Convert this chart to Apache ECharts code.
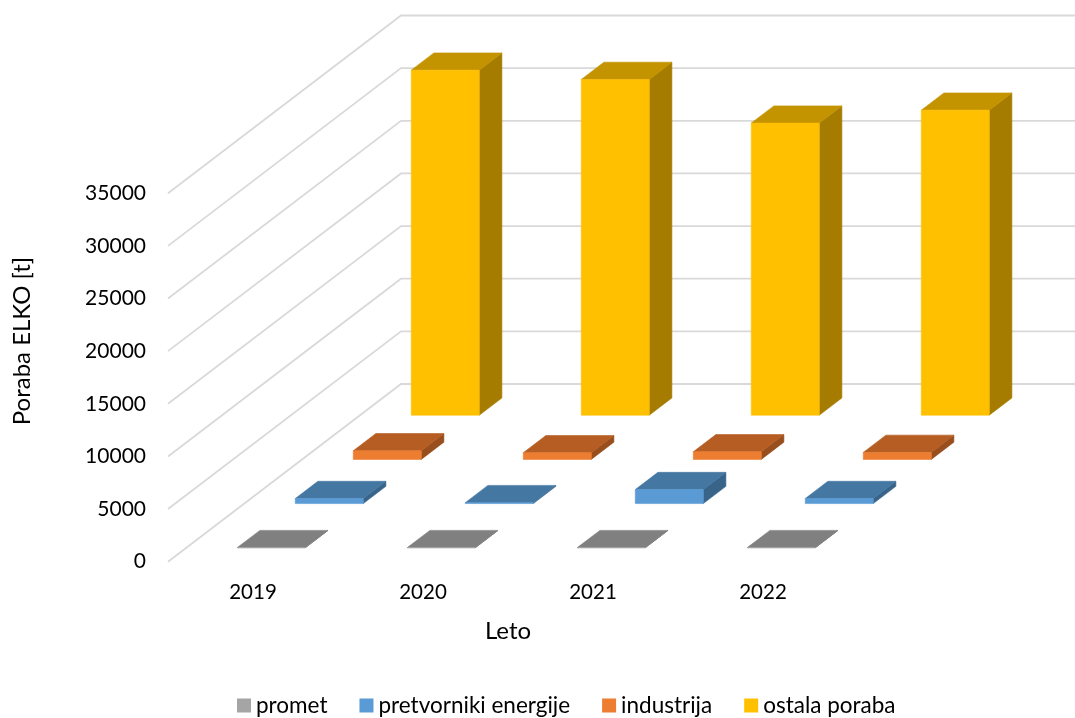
<!DOCTYPE html>
<html>
<head>
<meta charset="utf-8">
<style>html,body{margin:0;padding:0;background:#fff}#c{width:1075px;height:718px}</style>
<script src="https://cdn.jsdelivr.net/npm/echarts@6/dist/echarts.min.js"></script>
</head>
<body>
<div id="c"></div>
<script>
const years = ['2019', '2020', '2021', '2022'];
const ticks = [0, 5000, 10000, 15000, 20000, 25000, 30000, 35000];
const promet = [15, 15, 15, 15];
const pretvorniki = [480, 90, 1330, 480];
const industrija = [820, 630, 720, 665];
const ostala = [32770, 31890, 27740, 28970];

const FONT = 'Lato';
const WALL_DX = 233, WALL_DY = 177.7;   // oblique projection of the floor depth
const ROW_START = 0.315, ROW_DEPTH = 0.39, BAR_W = 0.4;
const slotX = 58, slotY = 44.2;

function barRender(row, front, top, side) {
  return function (params, api) {
    const cat = api.value(0), v = api.value(1);
    const base = api.coord([cat, 0]), head = api.coord([cat, v]);
    const w = api.size([1, 0])[0] * BAR_W;
    const ox = (row + ROW_START) * slotX, oy = (row + ROW_START) * slotY;
    const dx = ROW_DEPTH * slotX, dy = ROW_DEPTH * slotY;
    const x0 = base[0] - w / 2 + ox, x1 = x0 + w;
    const yB = base[1] - oy, yT = head[1] - oy;
    const poly = (points, fill) => ({
      type: 'polygon',
      shape: { points },
      style: { fill, stroke: fill, lineWidth: 0.6, opacity: 1 }
    });
    return {
      type: 'group',
      children: [
        poly([[x1, yB], [x1 + dx, yB - dy], [x1 + dx, yT - dy], [x1, yT]], side),
        poly([[x0, yT], [x1, yT], [x1 + dx, yT - dy], [x0 + dx, yT - dy]], top),
        poly([[x0, yB], [x1, yB], [x1, yT], [x0, yT]], front)
      ]
    };
  };
}

function wallRender(params, api) {
  const v = api.value(0);
  const y = api.coord([0, v])[1];
  const x = params.coordSys.x;
  return {
    type: 'polyline',
    shape: { points: [[x, y], [x + WALL_DX, y - WALL_DY], [1080, y - WALL_DY]] },
    style: { fill: null, stroke: '#D9D9D9', lineWidth: 1.8 }
  };
}

const pairs = arr => arr.map((v, i) => [i, v]);

const seriesDefs = [
  ['promet', promet, '#A5A5A5', '#808080', '#6E6E6E', 0],
  ['pretvorniki energije', pretvorniki, '#5B9BD5', '#4577A3', '#39648A', 1],
  ['industrija', industrija, '#ED7D31', '#B55D22', '#994F1D', 2],
  ['ostala poraba', ostala, '#FFC000', '#C49300', '#A67C00', 3]
];

const chart = echarts.init(document.getElementById('c'), null, { renderer: 'canvas' });
chart.setOption({
  animation: false,
  backgroundColor: '#fff',
  textStyle: { fontFamily: FONT },
  grid: { left: 168, right: 227, top: 193.2, height: 368.5, containLabel: false },
  xAxis: {
    type: 'category',
    data: years,
    axisLine: { show: false },
    axisTick: { show: false },
    axisLabel: { color: '#000', fontSize: 20.5, fontFamily: FONT, margin: 20 },
    name: 'Leto',
    nameLocation: 'middle',
    nameGap: 58,
    nameTextStyle: { color: '#000', fontSize: 24, fontFamily: FONT }
  },
  yAxis: {
    type: 'value',
    min: 0,
    max: 35000,
    interval: 5000,
    axisLine: { show: false },
    axisTick: { show: false },
    splitLine: { show: false },
    axisLabel: {
      color: '#000', fontSize: 21, fontFamily: FONT, margin: 22,
      padding: [3, 0, 0, 0],
      formatter: v => String(v)
    }
  },
  legend: {
    left: 232,
    top: 689,
    itemWidth: 14,
    itemHeight: 14,
    itemGap: 32,
    icon: 'rect',
    selectedMode: false,
    data: seriesDefs.map(d => d[0]),
    textStyle: { color: '#000', fontSize: 22.5, fontFamily: FONT }
  },
  graphic: [{
    type: 'text',
    x: 22,
    y: 341,
    rotation: Math.PI / 2,
    style: {
      text: 'Poraba ELKO [t]',
      fill: '#000',
      font: '24px ' + FONT,
      align: 'center',
      verticalAlign: 'middle'
    }
  }],
  series: [{
    type: 'custom',
    name: 'walls',
    silent: true,
    z: 1,
    data: ticks.map(t => [t]),
    encode: { y: 0 },
    renderItem: wallRender
  }].concat(seriesDefs.map(d => ({
    type: 'custom',
    name: d[0],
    z: 2,
    silent: true,
    itemStyle: { color: d[2] },
    data: pairs(d[1]),
    encode: { x: 0, y: 1 },
    renderItem: barRender(d[5], d[2], d[3], d[4])
  })))
});
</script>
</body>
</html>
